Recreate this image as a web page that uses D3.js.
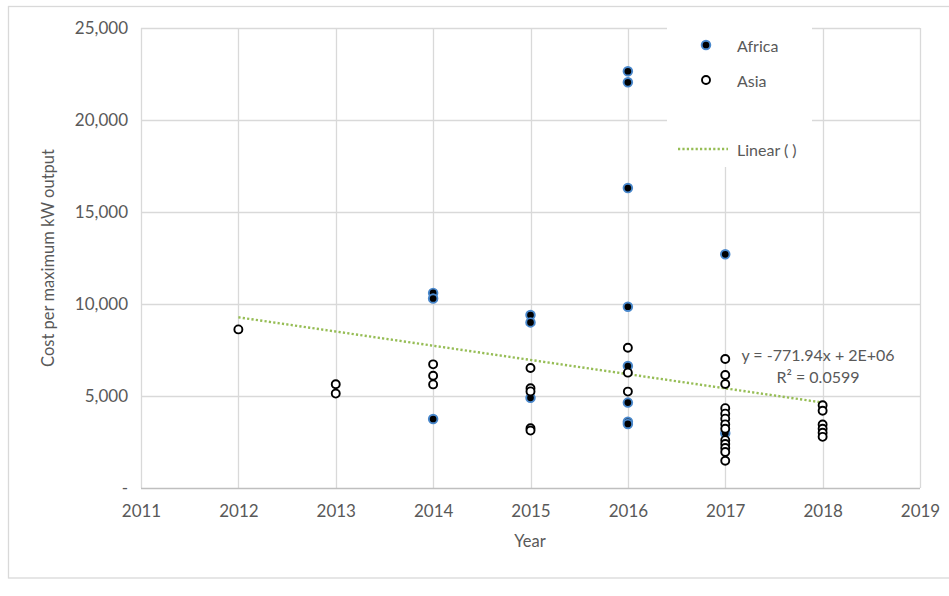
<!DOCTYPE html>
<html>
<head>
<meta charset="utf-8">
<script src="https://cdn.jsdelivr.net/npm/d3@7"></script>
<style>
  html, body { margin: 0; padding: 0; background: #fff; }
  svg { display: block; }
  text { font-family: "Lato", "Open Sans", sans-serif; fill: #595959; }
</style>
</head>
<body>
<svg id="chart" width="949" height="596"></svg>
<script>
// Cost per maximum kW output by project year
const africaYears  = [2014, 2014, 2014, 2015, 2015, 2015, 2016, 2016, 2016, 2016, 2016, 2016, 2016, 2016, 2017, 2017];
const africaValues = [10600, 10300, 3750, 9400, 9000, 4900, 22650, 22050, 16300, 9850, 6630, 4640, 3600, 3480, 12700, 2980];

const asiaYears  = [2012, 2013, 2013, 2014, 2014, 2014,
                    2015, 2015, 2015, 2015, 2015,
                    2016, 2016, 2016,
                    2017, 2017, 2017, 2017, 2017, 2017, 2017, 2017, 2017, 2017, 2017, 2017, 2017,
                    2018, 2018, 2018, 2018, 2018, 2018];
const asiaValues = [8620, 5640, 5130, 6720, 6100, 5630,
                    6520, 5420, 5250, 3250, 3120,
                    7620, 6270, 5240,
                    7010, 6140, 5650, 4340, 4040, 3770, 3460, 3220, 2600, 2390, 2170, 1960, 1480,
                    4500, 4200, 3450, 3220, 3000, 2780];

const xTicks = [2011, 2012, 2013, 2014, 2015, 2016, 2017, 2018, 2019];
const yTicks = [0, 5000, 10000, 15000, 20000, 25000];

// Linear trend as stated by the equation label
const trendSlope = -771.94;
const trendIntercept = 1562420;
const trendRange = [2012, 2018];
const r2Value = 0.0599;

const svg = d3.select("#chart");

const x = d3.scaleLinear().domain([2011, 2019]).range([141, 920]);
const y = d3.scaleLinear().domain([0, 25000]).range([488, 28]);

const green = "#96bd55";
const halo = "#4a88cc";

// outer chart border
svg.append("rect")
  .attr("x", 8.5).attr("y", 6.5).attr("width", 960).attr("height", 571.5)
  .attr("fill", "#fff").attr("stroke", "#d9d9d9").attr("stroke-width", 1.3);

// gridlines
const grid = svg.append("g").attr("stroke", "#d9d9d9").attr("stroke-width", 1.3);
grid.selectAll("line.h").data(yTicks.filter(d => d > 0)).join("line")
  .attr("class", "h")
  .attr("x1", x(2011)).attr("x2", x(2019))
  .attr("y1", d => Math.round(y(d)) + 0.5).attr("y2", d => Math.round(y(d)) + 0.5);
grid.selectAll("line.v").data(xTicks).join("line")
  .attr("class", "v")
  .attr("y1", y(0)).attr("y2", y(25000))
  .attr("x1", d => Math.round(x(d)) + 0.5).attr("x2", d => Math.round(x(d)) + 0.5);

// x axis baseline
svg.append("line")
  .attr("x1", x(2011)).attr("x2", x(2019))
  .attr("y1", Math.round(y(0)) + 0.5).attr("y2", Math.round(y(0)) + 0.5)
  .attr("stroke", "#bfbfbf").attr("stroke-width", 1.3);

// axis tick labels
const xAxis = d3.axisBottom(x).tickValues(xTicks).tickFormat(d3.format("d")).tickSize(0).tickPadding(17);
const gx = svg.append("g").attr("transform", `translate(0,${y(0)})`).call(xAxis);
gx.select(".domain").remove();
gx.selectAll("text").style("font-size", "17px").attr("fill", "#595959");

const yFmt = d3.format(",");
const yAxis = d3.axisLeft(y).tickValues(yTicks)
  .tickFormat(d => d === 0 ? "-" : yFmt(d)).tickSize(0).tickPadding(13);
const gy = svg.append("g").attr("transform", `translate(${x(2011)},0)`).call(yAxis);
gy.select(".domain").remove();
gy.selectAll("text").style("font-size", "17px").attr("fill", "#595959");

// axis titles
svg.append("text").attr("x", 530).attr("y", 541).attr("text-anchor", "middle")
  .attr("dominant-baseline", "central").style("font-size", "16.5px").text("Year");
svg.append("text").attr("transform", "translate(48,258) rotate(-90)")
  .attr("text-anchor", "middle").attr("dominant-baseline", "central")
  .style("font-size", "16.5px").text("Cost per maximum kW output");

// legend background
svg.append("rect").attr("x", 667).attr("y", 20).attr("width", 145).attr("height", 147).attr("fill", "#fff");

// soft edge for Africa markers
const defs = svg.append("defs");
defs.append("filter").attr("id", "soft").attr("x", "-50%").attr("y", "-50%").attr("width", "200%").attr("height", "200%")
  .append("feGaussianBlur").attr("stdDeviation", 0.5);

// trend line
svg.append("line")
  .attr("x1", x(trendRange[0])).attr("x2", x(trendRange[1]))
  .attr("y1", y(trendSlope * trendRange[0] + trendIntercept))
  .attr("y2", y(trendSlope * trendRange[1] + trendIntercept))
  .attr("stroke", green).attr("stroke-width", 2.4).attr("stroke-dasharray", "2.2 2.2");

// Africa series
const africa = d3.zip(africaYears, africaValues);
svg.append("g").selectAll("circle").data(africa).join("circle")
  .attr("cx", d => x(d[0])).attr("cy", d => y(d[1])).attr("r", 4.3)
  .attr("fill", "#000").attr("stroke", halo).attr("stroke-width", 1.9)
  .attr("filter", "url(#soft)");

// Asia series
const asia = d3.zip(asiaYears, asiaValues);
svg.append("g").selectAll("circle").data(asia).join("circle")
  .attr("cx", d => x(d[0])).attr("cy", d => y(d[1])).attr("r", 4)
  .attr("fill", "#fff").attr("stroke", "#000").attr("stroke-width", 1.9);

// equation label
const eq = svg.append("g").style("font-size", "16px");
eq.append("text").attr("x", 818).attr("y", 354).attr("text-anchor", "middle")
  .attr("dominant-baseline", "central")
  .text(`y = ${trendSlope}x + 2E+06`);
eq.append("text").attr("x", 818).attr("y", 376).attr("text-anchor", "middle")
  .attr("dominant-baseline", "central").text(`R² = ${r2Value}`);

// legend
const legend = svg.append("g").style("font-size", "16px");
legend.append("circle").attr("cx", 706).attr("cy", 45).attr("r", 4.3)
  .attr("fill", "#000").attr("stroke", halo).attr("stroke-width", 1.9).attr("filter", "url(#soft)");
legend.append("text").attr("x", 737).attr("y", 45).attr("dominant-baseline", "central").text("Africa");
legend.append("circle").attr("cx", 706).attr("cy", 80).attr("r", 4)
  .attr("fill", "#fff").attr("stroke", "#000").attr("stroke-width", 1.9);
legend.append("text").attr("x", 737).attr("y", 80).attr("dominant-baseline", "central").text("Asia");
legend.append("line").attr("x1", 678).attr("x2", 728).attr("y1", 149).attr("y2", 149)
  .attr("stroke", green).attr("stroke-width", 2.4).attr("stroke-dasharray", "2.2 2.2");
legend.append("text").attr("x", 737).attr("y", 149).attr("dominant-baseline", "central").text("Linear ( )");
</script>
</body>
</html>
